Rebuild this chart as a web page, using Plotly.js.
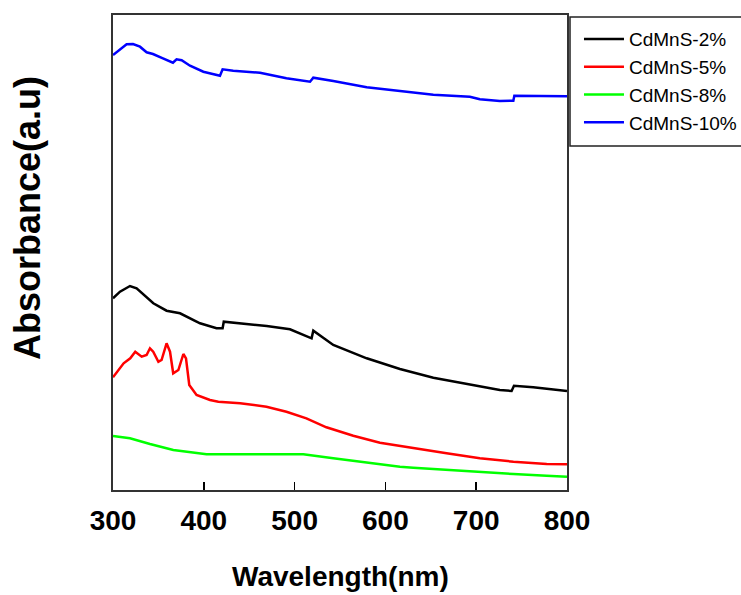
<!DOCTYPE html>
<html>
<head>
<meta charset="utf-8">
<script src="https://cdn.plot.ly/plotly-3.0.1.min.js"></script>
<style>html,body{margin:0;padding:0;background:#fff}#chart{width:741px;height:595px}</style>
</head>
<body>
<div id="chart"></div>
<script>
// Wavelength (nm) and absorbance (a.u.)
const wl2 = [300,307.7,318.7,326,344.4,359,373.8,395.8,414,420.7,422,439.9,469.3,494.9,518.7,520.6,542.6,579.4,616,652.8,689.4,726,739,741.6,762.8,800];
const ab2 = [1.917,1.983,2.04,2.017,1.867,1.793,1.767,1.667,1.617,1.617,1.683,1.667,1.64,1.607,1.517,1.593,1.45,1.317,1.21,1.123,1.06,1.0,0.99,1.043,1.027,0.99];

const wl5 = [300,311.7,319,324.5,331.6,337,340.7,344.3,350,353.5,359,362.8,366.3,372,377.5,380.4,384,392,406.8,416,440,469,491,513,535,564.6,594,630.7,667.4,704,741,777.6,800];
const ab5 = [1.127,1.267,1.317,1.383,1.333,1.35,1.417,1.383,1.283,1.3,1.467,1.383,1.167,1.2,1.36,1.317,1.05,0.95,0.9,0.883,0.867,0.833,0.783,0.717,0.627,0.543,0.473,0.417,0.367,0.317,0.283,0.26,0.257];

const wl8 = [300,318.7,340.7,366.4,403,451,509.6,542.6,579.4,616,630.7,667.4,704,741,777.6,800];
const ab8 = [0.54,0.517,0.46,0.40,0.357,0.357,0.357,0.317,0.273,0.233,0.223,0.20,0.177,0.16,0.143,0.133];

const wl10 = [300,307.7,315,322,329.7,337,344,355,366,370,375.6,384.8,399.5,417.8,420.7,432.4,461.9,491,517,520.6,542.6,579.4,616,652.8,693,704,726,740.9,742,800];
const ab10 = [4.35,4.407,4.457,4.46,4.433,4.377,4.36,4.317,4.273,4.307,4.297,4.243,4.183,4.143,4.207,4.193,4.173,4.117,4.083,4.123,4.09,4.027,3.99,3.953,3.933,3.907,3.89,3.893,3.943,3.937];

const names = ["CdMnS-2%","CdMnS-5%","CdMnS-8%","CdMnS-10%"];
const colors = ["#000000","#ff0000","#00ff00","#0000ff"];
const xs = [wl2, wl5, wl8, wl10];
const ys = [ab2, ab5, ab8, ab10];

const traces = names.map((n,i)=>({
  x: xs[i], y: ys[i], name: n, type: "scatter", mode: "lines",
  legendgroup: "g" + i,
  line: {color: colors[i], width: 2.5, shape: "linear"}
}));

const FONT = "Liberation Sans, Arial, sans-serif";

const layout = {
  width: 741, height: 595,
  margin: {l:113, r:174, t:15, b:105, autoexpand: false},
  paper_bgcolor: "#fff", plot_bgcolor: "#fff",
  showlegend: true,
  font: {family: FONT, color: "#000"},
  xaxis: {
    range: [300, 800], tickvals: [300,400,500,600,700,800],
    ticks: "inside", ticklen: 8, tickwidth: 1.5, tickcolor: "#000",
    showline: true, linecolor: "#333", linewidth: 2, mirror: true,
    showgrid: false, zeroline: false, automargin: false,
    tickfont: {size: 28, family: FONT, weight: "bold", color: "#000"},
    ticklabelstandoff: 4
  },
  yaxis: {
    range: [0, 4.75], showticklabels: false, ticks: "",
    showline: true, linecolor: "#333", linewidth: 2, mirror: true,
    showgrid: false, zeroline: false, automargin: false
  },
  legend: {
    x: 1.0264, y: 0.989, xanchor: "left", yanchor: "top",
    borderwidth: 0, bgcolor: "rgba(0,0,0,0)",
    font: {size: 19, family: FONT, color: "#000"},
    traceorder: "normal", tracegroupgap: 3, itemwidth: 40
  },
  shapes: [
    {type: "rect", xref: "paper", yref: "paper",
     x0: (570-113)/454, x1: (748-113)/454, y0: (490-146)/475, y1: (490-17)/475,
     line: {color: "#222", width: 1.5}, fillcolor: "rgba(0,0,0,0)", layer: "below"}
  ],
  annotations: [
    {text: "Wavelength(nm)", xref: "paper", yref: "paper", x: 0.5, y: -0.183,
     xanchor: "center", yanchor: "middle", showarrow: false,
     font: {size: 28, weight: "bold", family: FONT, color: "#000"}},
    {text: "Absorbance(a.u)", xref: "paper", yref: "paper", x: -0.188, y: 0.572,
     xanchor: "center", yanchor: "middle", showarrow: false, textangle: -90,
     font: {size: 36, weight: "bold", family: FONT, color: "#000"}}
  ]
};

Plotly.newPlot("chart", traces, layout, {displayModeBar: false, staticPlot: true});
</script>
</body>
</html>
